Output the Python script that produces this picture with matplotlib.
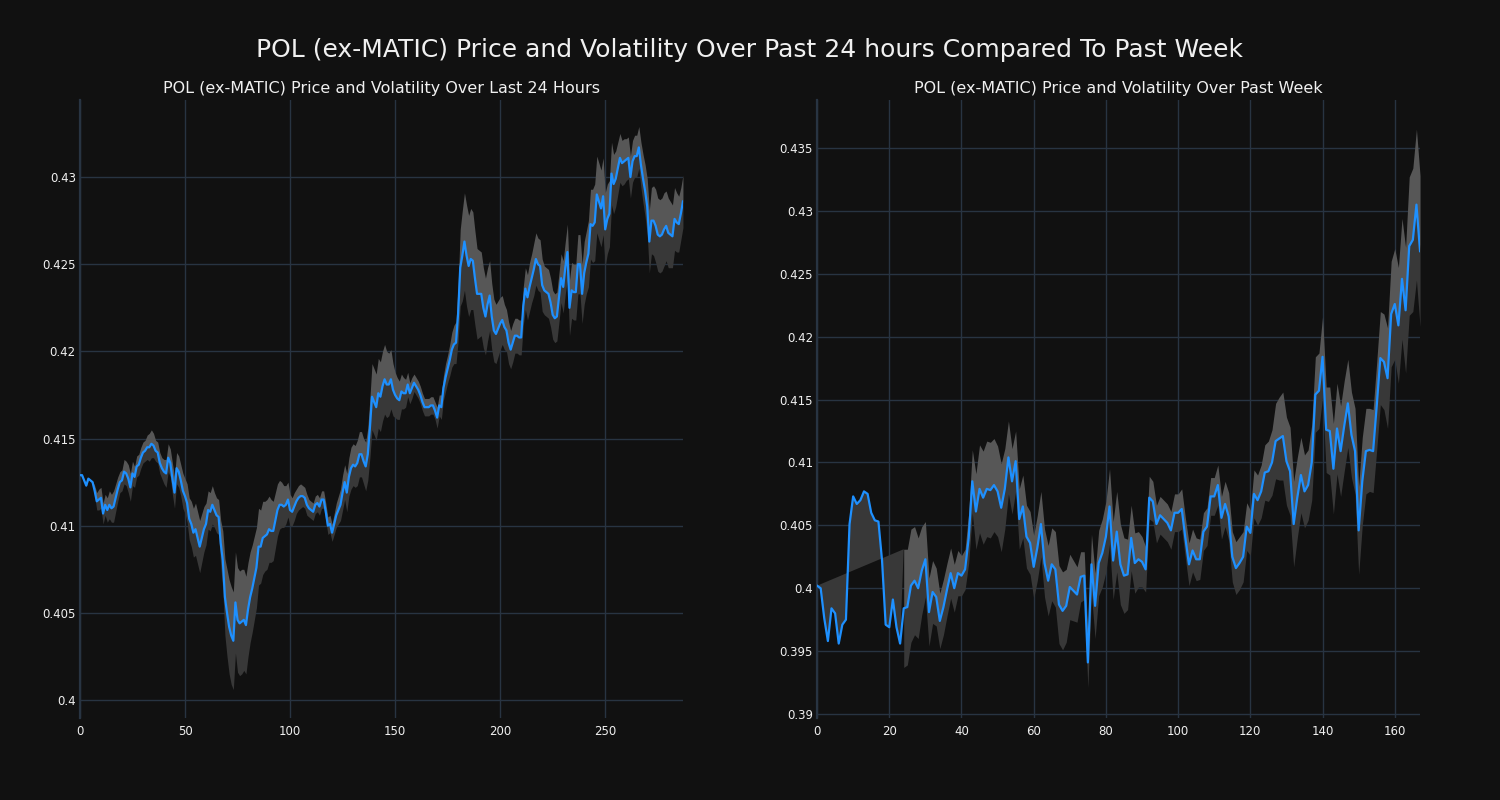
import numpy as np
import matplotlib
matplotlib.use("Agg")
import matplotlib.pyplot as plt
from matplotlib.ticker import FuncFormatter, MultipleLocator

# ---------------- data ----------------
price_24h = [
    0.4129, 0.4129, 0.4126, 0.4123, 0.4127, 0.4126, 0.4125, 0.4120, 0.4114, 0.4115,
    0.4116, 0.4107, 0.4112, 0.4109, 0.4112, 0.4110, 0.4111, 0.4116, 0.4121, 0.4125,
    0.4126, 0.4131, 0.4130, 0.4127, 0.4122, 0.4130, 0.4128, 0.4134, 0.4135, 0.4139,
    0.4142, 0.4143, 0.4145, 0.4145, 0.4147, 0.4146, 0.4143, 0.4142, 0.4136, 0.4133,
    0.4131, 0.4130, 0.4139, 0.4136, 0.4127, 0.4119, 0.4133, 0.4131, 0.4126, 0.4120,
    0.4117, 0.4113, 0.4104, 0.4101, 0.4096, 0.4098, 0.4093, 0.4088, 0.4093, 0.4098,
    0.4101, 0.4109, 0.4108, 0.4112, 0.4109, 0.4106, 0.4105, 0.4090, 0.4080, 0.4059,
    0.4050, 0.4042, 0.4037, 0.4034, 0.4056, 0.4046, 0.4044, 0.4045, 0.4046, 0.4043,
    0.4052, 0.4059, 0.4064, 0.4070, 0.4076, 0.4088, 0.4088, 0.4093, 0.4094, 0.4095,
    0.4098, 0.4097, 0.4097, 0.4103, 0.4109, 0.4112, 0.4112, 0.4111, 0.4112, 0.4115,
    0.4109, 0.4108, 0.4111, 0.4114, 0.4116, 0.4117, 0.4117, 0.4116, 0.4112, 0.4110,
    0.4109, 0.4108, 0.4112, 0.4113, 0.4111, 0.4115, 0.4115, 0.4108, 0.4100, 0.4101,
    0.4096, 0.4101, 0.4106, 0.4109, 0.4112, 0.4119, 0.4125, 0.4119, 0.4128, 0.4133,
    0.4135, 0.4134, 0.4136, 0.4141, 0.4141, 0.4137, 0.4134, 0.4141, 0.4156, 0.4174,
    0.4171, 0.4168, 0.4176, 0.4174, 0.4180, 0.4184, 0.4181, 0.4181, 0.4184, 0.4178,
    0.4175, 0.4173, 0.4172, 0.4177, 0.4176, 0.4176, 0.4181, 0.4176, 0.4179, 0.4182,
    0.4180, 0.4178, 0.4175, 0.4171, 0.4168, 0.4168, 0.4168, 0.4169, 0.4169, 0.4166,
    0.4162, 0.4169, 0.4168, 0.4179, 0.4185, 0.4190, 0.4195, 0.4201, 0.4204, 0.4205,
    0.4222, 0.4248, 0.4255, 0.4263, 0.4255, 0.4249, 0.4253, 0.4252, 0.4242, 0.4233,
    0.4233, 0.4233, 0.4225, 0.4220, 0.4227, 0.4232, 0.4220, 0.4212, 0.4210, 0.4213,
    0.4216, 0.4218, 0.4214, 0.4212, 0.4205, 0.4201, 0.4205, 0.4209, 0.4209, 0.4208,
    0.4208, 0.4226, 0.4236, 0.4231, 0.4237, 0.4242, 0.4247, 0.4253, 0.4250, 0.4249,
    0.4238, 0.4235, 0.4234, 0.4233, 0.4228, 0.4221, 0.4219, 0.4220, 0.4231, 0.4242,
    0.4237, 0.4248, 0.4257, 0.4225, 0.4235, 0.4234, 0.4234, 0.4250, 0.4250, 0.4233,
    0.4245, 0.4251, 0.4256, 0.4273, 0.4272, 0.4274, 0.4290, 0.4286, 0.4282, 0.4289,
    0.4270, 0.4276, 0.4279, 0.4302, 0.4296, 0.4299, 0.4305, 0.4311, 0.4308, 0.4309,
    0.4310, 0.4311, 0.4300, 0.4309, 0.4312, 0.4312, 0.4317, 0.4307, 0.4299, 0.4292,
    0.4283, 0.4263, 0.4275, 0.4275, 0.4272, 0.4267, 0.4266, 0.4267, 0.4270, 0.4272,
    0.4268, 0.4267, 0.4266, 0.4276, 0.4274, 0.4273, 0.4279, 0.4286,
]

vol_24h = [
    0.00005, 0.00005, 0.00005, 0.00005, 0.00005, 0.00005, 0.00005, 0.0003, 0.0005, 0.0006,
    0.0006, 0.0006, 0.0006, 0.0007, 0.0008, 0.0008, 0.0009, 0.0008, 0.0007, 0.0006,
    0.0006, 0.0007, 0.0007, 0.0008, 0.0008, 0.0007, 0.0006, 0.0006, 0.0006, 0.0006,
    0.0006, 0.0006, 0.0007, 0.0008, 0.0008, 0.0007, 0.0006, 0.0006, 0.0006, 0.0006,
    0.0007, 0.0008, 0.0008, 0.0008, 0.0009, 0.0009, 0.0009, 0.0009, 0.0009, 0.0010,
    0.0010, 0.0011, 0.0012, 0.0013, 0.0014, 0.0015, 0.0015, 0.0015, 0.0014, 0.0013,
    0.0012, 0.0011, 0.0011, 0.0011, 0.0010, 0.0010, 0.0010, 0.0013, 0.0017, 0.0022,
    0.0025, 0.0027, 0.0028, 0.0028, 0.0029, 0.0030, 0.0030, 0.0030, 0.0029, 0.0028,
    0.0027, 0.0026, 0.0025, 0.0024, 0.0023, 0.0022, 0.0021, 0.0021, 0.0020, 0.0020,
    0.0019, 0.0018, 0.0017, 0.0016, 0.0015, 0.0014, 0.0013, 0.0012, 0.0011, 0.0010,
    0.0009, 0.0008, 0.0008, 0.0007, 0.0007, 0.0007, 0.0006, 0.0006, 0.0006, 0.0005,
    0.0005, 0.0005, 0.0005, 0.0005, 0.0005, 0.0005, 0.0005, 0.0005, 0.0005, 0.0005,
    0.0005, 0.0006, 0.0007, 0.0008, 0.0009, 0.0010, 0.0010, 0.0011, 0.0011, 0.0012,
    0.0012, 0.0012, 0.0013, 0.0013, 0.0013, 0.0013, 0.0014, 0.0015, 0.0017, 0.0019,
    0.0019, 0.0019, 0.0020, 0.0020, 0.0020, 0.0020, 0.0019, 0.0018, 0.0017, 0.0015,
    0.0013, 0.0012, 0.0011, 0.0010, 0.0009, 0.0008, 0.0007, 0.0006, 0.0006, 0.0005,
    0.0005, 0.0005, 0.0005, 0.0005, 0.0005, 0.0005, 0.0005, 0.0005, 0.0005, 0.0005,
    0.0006, 0.0006, 0.0007, 0.0007, 0.0008, 0.0008, 0.0009, 0.0010, 0.0011, 0.0012,
    0.0016, 0.0022, 0.0026, 0.0028, 0.0029, 0.0029, 0.0029, 0.0028, 0.0027, 0.0026,
    0.0025, 0.0024, 0.0023, 0.0022, 0.0021, 0.0020, 0.0019, 0.0018, 0.0017, 0.0016,
    0.0015, 0.0014, 0.0013, 0.0012, 0.0012, 0.0011, 0.0011, 0.0010, 0.0010, 0.0010,
    0.0010, 0.0011, 0.0012, 0.0013, 0.0014, 0.0014, 0.0015, 0.0015, 0.0015, 0.0015,
    0.0015, 0.0014, 0.0014, 0.0014, 0.0014, 0.0014, 0.0014, 0.0014, 0.0014, 0.0014,
    0.0015, 0.0015, 0.0016, 0.0016, 0.0016, 0.0016, 0.0016, 0.0017, 0.0017, 0.0017,
    0.0018, 0.0018, 0.0019, 0.0020, 0.0021, 0.0022, 0.0022, 0.0022, 0.0022, 0.0022,
    0.0021, 0.0020, 0.0019, 0.0018, 0.0017, 0.0016, 0.0015, 0.0014, 0.0013, 0.0013,
    0.0012, 0.0012, 0.0012, 0.0012, 0.0012, 0.0012, 0.0012, 0.0013, 0.0014, 0.0015,
    0.0016, 0.0018, 0.0019, 0.0020, 0.0021, 0.0021, 0.0021, 0.0021, 0.0021, 0.0020,
    0.0020, 0.0019, 0.0018, 0.0018, 0.0017, 0.0016, 0.0015, 0.0015,
]

price_week = [
    0.4002, 0.4000, 0.3976, 0.3958, 0.3984, 0.3980, 0.3956, 0.3971, 0.3975, 0.4051,
    0.4073, 0.4067, 0.4070, 0.4077, 0.4075, 0.4060, 0.4054, 0.4053, 0.4022, 0.3971,
    0.3969, 0.3991, 0.3969, 0.3956, 0.3984, 0.3985, 0.4002, 0.4006, 0.4000, 0.4014,
    0.4023, 0.3981, 0.3997, 0.3993, 0.3974, 0.3985, 0.3999, 0.4012, 0.4000, 0.4012,
    0.4010, 0.4015, 0.4040, 0.4085, 0.4061, 0.4079, 0.4072, 0.4079, 0.4078, 0.4082,
    0.4077, 0.4064, 0.4079, 0.4104, 0.4085, 0.4101, 0.4055, 0.4065, 0.4041, 0.4036,
    0.4017, 0.4032, 0.4051, 0.4020, 0.4006, 0.4019, 0.4015, 0.3987, 0.3982, 0.3986,
    0.4001, 0.3998, 0.3995, 0.4009, 0.4010, 0.3941, 0.4019, 0.3986, 0.4020, 0.4028,
    0.4041, 0.4065, 0.4022, 0.4045, 0.4019, 0.4010, 0.4011, 0.4040, 0.4020, 0.4023,
    0.4021, 0.4015, 0.4072, 0.4069, 0.4051, 0.4058, 0.4055, 0.4052, 0.4046, 0.4060,
    0.4060, 0.4063, 0.4040, 0.4019, 0.4030, 0.4023, 0.4023, 0.4045, 0.4049, 0.4073,
    0.4073, 0.4082, 0.4056, 0.4067, 0.4057, 0.4025, 0.4016, 0.4020, 0.4025, 0.4049,
    0.4044, 0.4075, 0.4070, 0.4077, 0.4092, 0.4093, 0.4100, 0.4117, 0.4119, 0.4121,
    0.4101, 0.4093, 0.4051, 0.4072, 0.4090, 0.4077, 0.4082, 0.4100, 0.4154, 0.4157,
    0.4184, 0.4126, 0.4125, 0.4095, 0.4127, 0.4109, 0.4129, 0.4147, 0.4122, 0.4109,
    0.4046, 0.4085, 0.4109, 0.4110, 0.4109, 0.4145, 0.4183, 0.4180, 0.4167, 0.4218,
    0.4226, 0.4209, 0.4246, 0.4221, 0.4272, 0.4277, 0.4305, 0.4268,
]

# volatility band half-width; not available for the first 24 hours of the week
vol_week = [None] * 24 + [
    0.0047, 0.0046, 0.0045, 0.0043, 0.0040, 0.0035, 0.0030, 0.0027, 0.0025, 0.0023,
    0.0022, 0.0022, 0.0021, 0.0020, 0.0019, 0.0018, 0.0016, 0.0016, 0.0020, 0.0025,
    0.0030, 0.0035, 0.0037, 0.0038, 0.0038, 0.0037, 0.0036, 0.0035, 0.0032, 0.0029,
    0.0026, 0.0024, 0.0024, 0.0025, 0.0025, 0.0025, 0.0025, 0.0026, 0.0026, 0.0027,
    0.0028, 0.0029, 0.0030, 0.0031, 0.0031, 0.0029, 0.0026, 0.0024, 0.0022, 0.0020,
    0.0019, 0.0020, 0.0024, 0.0026, 0.0026, 0.0027, 0.0028, 0.0030, 0.0031, 0.0032,
    0.0032, 0.0030, 0.0028, 0.0026, 0.0024, 0.0022, 0.0020, 0.0018, 0.0017, 0.0016,
    0.0015, 0.0015, 0.0015, 0.0015, 0.0015, 0.0015, 0.0015, 0.0016, 0.0016, 0.0017,
    0.0017, 0.0017, 0.0016, 0.0015, 0.0015, 0.0015, 0.0015, 0.0016, 0.0017, 0.0018,
    0.0019, 0.0020, 0.0021, 0.0021, 0.0020, 0.0019, 0.0018, 0.0019, 0.0020, 0.0021,
    0.0022, 0.0024, 0.0026, 0.0030, 0.0033, 0.0035, 0.0035, 0.0035, 0.0034, 0.0032,
    0.0030, 0.0029, 0.0028, 0.0030, 0.0030, 0.0030, 0.0032, 0.0034, 0.0035, 0.0036,
    0.0036, 0.0036, 0.0036, 0.0035, 0.0034, 0.0034, 0.0035, 0.0035, 0.0034, 0.0033,
    0.0033, 0.0035, 0.0037, 0.0038, 0.0040, 0.0042, 0.0044, 0.0046, 0.0048, 0.0050,
    0.0055, 0.0057, 0.0060, 0.0060,
]

suptitle = "POL (ex-MATIC) Price and Volatility Over Past 24 hours Compared To Past Week"
title_left = "POL (ex-MATIC) Price and Volatility Over Last 24 Hours"
title_right = "POL (ex-MATIC) Price and Volatility Over Past Week"

# ---------------- style ----------------
BG = "#111111"
GRID = "#283442"
LINE = "#1e90ff"
BAND_LIGHT = "#575757"
BAND_DARK = "#383838"
TXT = "#f0f0f0"

plt.rcParams["font.family"] = ["DejaVu Sans"]

fig = plt.figure(figsize=(15, 8), dpi=100, facecolor=BG)
ax1 = fig.add_axes([0.0533, 0.1025, 0.402, 0.7725])
ax2 = fig.add_axes([0.5447, 0.1025, 0.402, 0.7725])


def style(ax, ylim, ystep, xlim, xstep):
    ax.set_facecolor(BG)
    ax.set_xlim(*xlim)
    ax.set_ylim(*ylim)
    ax.xaxis.set_major_locator(MultipleLocator(xstep))
    ax.yaxis.set_major_locator(MultipleLocator(ystep))
    ax.yaxis.set_major_formatter(FuncFormatter(lambda v, p: f"{round(v, 4):g}"))
    ax.grid(True, color=GRID, linewidth=1.0)
    ax.set_axisbelow(True)
    for s in ["top", "right", "bottom"]:
        ax.spines[s].set_visible(False)
    ax.spines["left"].set_color(GRID)
    ax.spines["left"].set_linewidth(1.6)
    ax.tick_params(axis="both", length=0, colors=TXT, labelsize=8.5)
    ax.tick_params(axis="y", pad=3)
    ax.tick_params(axis="x", pad=5)


def draw(ax, price, vol):
    p = np.array(price, dtype=float)
    v = np.array([np.nan if a is None else a for a in vol], dtype=float)
    x = np.arange(len(p))
    up = p + v
    lo = p - v
    ok = ~np.isnan(v)
    first = int(np.argmax(ok))
    if first > 0:
        # band not available yet: area between price and start of band
        xs = np.r_[x[:first], x[first], x[0]]
        ys = np.r_[p[:first], up[first], p[0]]
        ax.fill(xs, ys, color=BAND_DARK, linewidth=0, zorder=1)
    ax.fill_between(x[ok], lo[ok], p[ok], color=BAND_DARK, linewidth=0, zorder=1)
    ax.fill_between(x[ok], p[ok], up[ok], color=BAND_LIGHT, linewidth=0, zorder=1)
    ax.plot(x, p, color=LINE, linewidth=1.6, zorder=3)


draw(ax1, price_24h, vol_24h)
draw(ax2, price_week, vol_week)
style(ax1, (0.39897, 0.43442), 0.005, (0, len(price_24h) - 1), 50)
style(ax2, (0.38968, 0.43882), 0.005, (0, len(price_week) - 1), 20)

ax1.set_title(title_left, color=TXT, fontsize=11.5, pad=5)
ax2.set_title(title_right, color=TXT, fontsize=11.5, pad=5)
fig.suptitle(suptitle, color=TXT, fontsize=18, y=0.9375, va="center")

fig.savefig("out.png", dpi=100, facecolor=BG)
